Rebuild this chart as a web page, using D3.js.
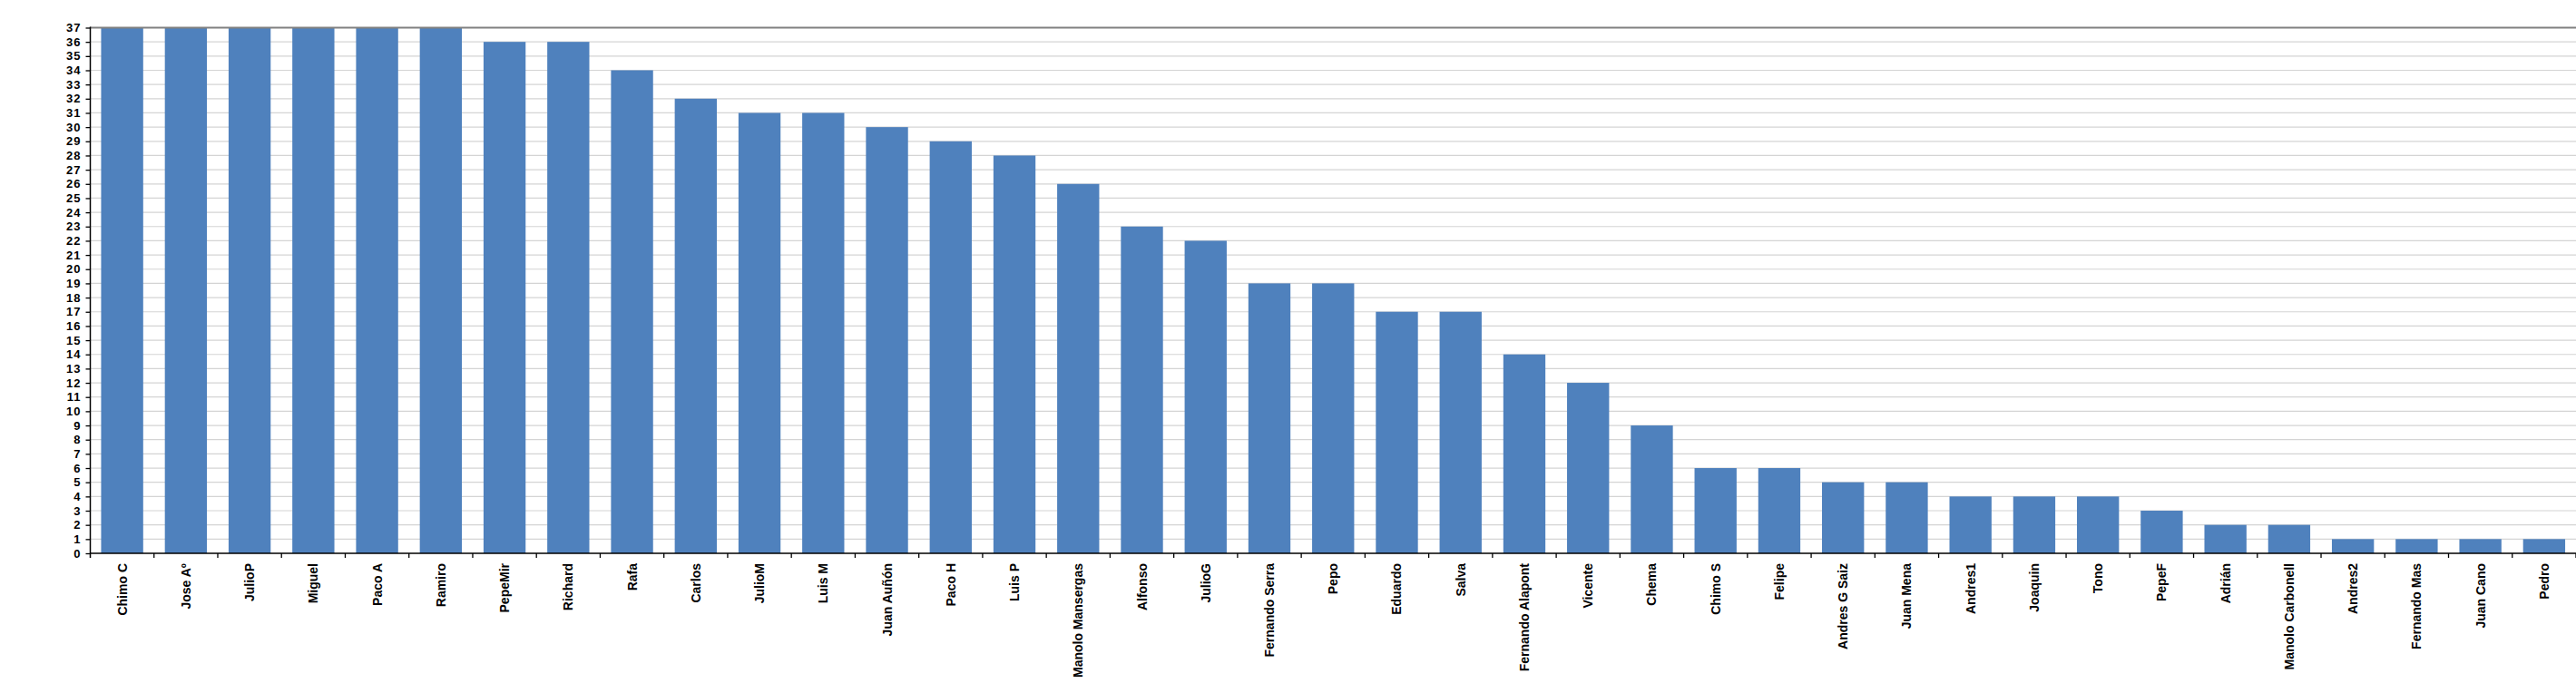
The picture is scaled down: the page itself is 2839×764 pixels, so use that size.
<!DOCTYPE html>
<html>
<head>
<meta charset="utf-8">
<script src="https://cdn.jsdelivr.net/npm/d3@7"></script>
<style>
  html, body { margin: 0; padding: 0; background: #fff; }
  svg { display: block; }
  text { font-family: "Liberation Sans", Arial, sans-serif; font-weight: bold; fill: #000; }
</style>
</head>
<body>
<svg id="chart" width="2839" height="764"></svg>
<script>
const categories = ["Chimo C","Jose Aº","JulioP","Miguel","Paco A","Ramiro","PepeMir","Richard","Rafa","Carlos","JulioM","Luis M","Juan Auñón","Paco H","Luis P","Manolo Mansergas","Alfonso","JulioG","Fernando Serra","Pepo","Eduardo","Salva","Fernando Alapont","Vicente","Chema","Chimo S","Felipe","Andres G Saiz","Juan Mena","Andres1","Joaquin","Tono","PepeF","Adrián","Manolo Carbonell","Andres2","Fernando Mas","Juan Cano","Pedro"];
const values = [37,37,37,37,37,37,36,36,34,32,31,31,30,29,28,26,23,22,19,19,17,17,14,12,9,6,6,5,5,4,4,4,3,2,2,1,1,1,1];
const yTicks = d3.range(0, 38);

(function () {
const mLeft = 99.5, mTop = 30.5, mBottom = 610, mRight = 2839;
const pad = 0.34;

const svg = d3.select("#chart");
const x = d3.scaleBand().domain(categories).range([mLeft, mRight]).paddingInner(pad).paddingOuter(pad / 2);
const y = d3.scaleLinear().domain([0, 37]).range([mBottom, mTop]);

// gridlines
svg.append("g").selectAll("line").data(yTicks.filter(d => d > 0 && d < 37)).join("line")
  .attr("x1", mLeft).attr("x2", mRight)
  .attr("y1", d => y(d)).attr("y2", d => y(d))
  .attr("stroke", "#d4d4d4").attr("stroke-width", 1.2);

// bars
svg.append("g").selectAll("rect").data(categories).join("rect")
  .attr("x", d => x(d))
  .attr("width", x.bandwidth())
  .attr("y", (d, i) => y(values[i]))
  .attr("height", (d, i) => y(0) - y(values[i]))
  .attr("fill", "#4f81bd");

// top border line
svg.append("line").attr("x1", mLeft).attr("x2", mRight).attr("y1", y(37)).attr("y2", y(37))
  .attr("stroke", "#808080").attr("stroke-width", 2);

// y axis
const yAxis = d3.axisLeft(y).tickValues(yTicks).tickSize(5).tickPadding(5).tickFormat(d3.format("d"));
const gy = svg.append("g").attr("transform", `translate(${mLeft},0)`).call(yAxis);
gy.select(".domain").remove();
gy.selectAll(".tick line").attr("stroke", "#000").attr("stroke-width", 1.3);
gy.selectAll(".tick text").attr("font-size", "13px").attr("font-family", "'Liberation Sans', Arial, sans-serif")
  .attr("font-weight", "bold").attr("fill", "#000").style("letter-spacing", "1px");
svg.append("line").attr("x1", mLeft).attr("x2", mLeft).attr("y1", mTop - 1).attr("y2", mBottom + 5)
  .attr("stroke", "#000").attr("stroke-width", 1.5);

// x axis baseline and ticks at category boundaries
svg.append("line").attr("x1", mLeft).attr("x2", mRight).attr("y1", mBottom).attr("y2", mBottom)
  .attr("stroke", "#000").attr("stroke-width", 1.5);
const step = x.step();
svg.append("g").selectAll("line").data(categories).join("line")
  .attr("x1", d => x(d) - step * pad / 2 + step).attr("x2", d => x(d) - step * pad / 2 + step)
  .attr("y1", mBottom).attr("y2", mBottom + 5)
  .attr("stroke", "#000").attr("stroke-width", 1.3);

// x labels
svg.append("g").selectAll("text").data(categories).join("text")
  .attr("transform", d => `translate(${x(d) + x.bandwidth() / 2 + 5},${mBottom + 11}) rotate(-90)`)
  .attr("text-anchor", "end")
  .attr("font-size", "14px")
  .text(d => d);
})();
</script>
</body>
</html>
